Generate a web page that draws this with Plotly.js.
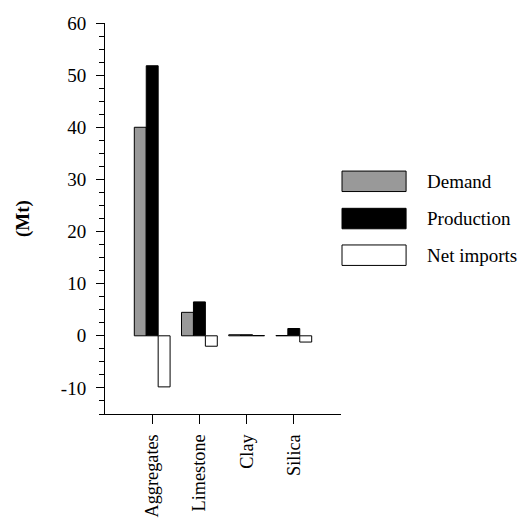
<!DOCTYPE html>
<html>
<head>
<meta charset="utf-8">
<script src="https://cdn.plot.ly/plotly-3.0.1.min.js"></script>
<style>
  html, body { margin: 0; padding: 0; background: #ffffff; }
  #chart { width: 520px; height: 520px; }
</style>
</head>
<body>
<div id="chart"></div>
<script>
// ---- data ----
var categories = ['Aggregates', 'Limestone', 'Clay', 'Silica'];
var seriesNames = ['Demand', 'Production', 'Net imports'];
var demand = [40.0, 4.5, 0.2, 0.05];
var production = [51.8, 6.5, 0.2, 1.4];
var netImports = [-9.8, -2.0, 0.05, -1.2];
var yTickValues = [-10, 0, 10, 20, 30, 40, 50, 60];
var yTickLabels = ['-10', '0', '10', '20', '30', '40', '50', '60'];
var yTitle = '(Mt)';

// ---- styling ----
var FONT = 'Liberation Serif, Times New Roman, serif';
var FS = 19;
var colors = ['#999999', '#000000', '#ffffff'];
var seriesValues = [demand, production, netImports];

var traces = seriesValues.map(function (vals, i) {
  return {
    type: 'bar',
    name: seriesNames[i],
    x: categories,
    y: vals,
    marker: { color: colors[i], line: { color: '#000000', width: 1 } },
    showlegend: false,
    hoverinfo: 'x+y+name'
  };
});

// plot area in pixels
var W = 520, H = 520;
var L = 105, R = 340.7, T = 22.7, B = 414.3;
function px2x(p) { return (p - L) / (R - L); }
function px2y(p) { return (B - p) / (B - T); }

// custom legend (large swatches)
var shapes = [];
var annotations = [];
var rowTops = [171, 208.3, 245];
var rowH = 20.5;
for (var i = 0; i < seriesNames.length; i++) {
  var y0 = rowTops[i], y1 = rowTops[i] + rowH;
  shapes.push({
    type: 'rect', xref: 'paper', yref: 'paper',
    x0: px2x(341.7), x1: px2x(405.7), y0: px2y(y1), y1: px2y(y0),
    fillcolor: colors[i], line: { color: '#000000', width: 1 }
  });
  annotations.push({
    xref: 'paper', yref: 'paper',
    x: px2x(424.5), y: px2y((y0 + y1) / 2),
    xanchor: 'left', yanchor: 'middle',
    text: seriesNames[i], showarrow: false,
    font: { family: FONT, size: FS, color: '#000000' }
  });
}

var layout = {
  width: W, height: H,
  margin: { l: L, r: W - R, t: T, b: H - B, pad: 0 },
  paper_bgcolor: '#ffffff',
  plot_bgcolor: '#ffffff',
  font: { family: FONT, size: FS, color: '#000000' },
  barmode: 'group',
  bargap: 0.242,
  bargroupgap: 0,
  showlegend: false,
  xaxis: {
    type: 'category',
    range: [-1, 4],
    showline: true, linecolor: '#000000', linewidth: 1,
    showgrid: false, zeroline: false,
    ticks: 'outside', ticklen: 9, tickwidth: 1, tickcolor: '#000000',
    tickangle: -90,
    tickfont: { family: FONT, size: 18.3, color: '#000000' },
    ticklabelstandoff: 3,
    automargin: false
  },
  yaxis: {
    range: [-15, 60],
    tickvals: yTickValues,
    ticktext: yTickLabels,
    showline: true, linecolor: '#000000', linewidth: 1,
    showgrid: false, zeroline: false,
    ticks: 'outside', ticklen: 8, tickwidth: 1, tickcolor: '#000000',
    minor: { dtick: 2.5, ticks: 'outside', ticklen: 5, tickwidth: 1, tickcolor: '#000000', showgrid: false },
    tickfont: { family: FONT, size: FS, color: '#000000' },
    ticklabelstandoff: 6,
    title: { text: '<b>' + yTitle + '</b>', font: { family: FONT, size: FS, color: '#000000' }, standoff: 26 },
    automargin: false
  },
  shapes: shapes,
  annotations: annotations
};

Plotly.newPlot('chart', traces, layout, { displayModeBar: false, staticPlot: true });
</script>
</body>
</html>
